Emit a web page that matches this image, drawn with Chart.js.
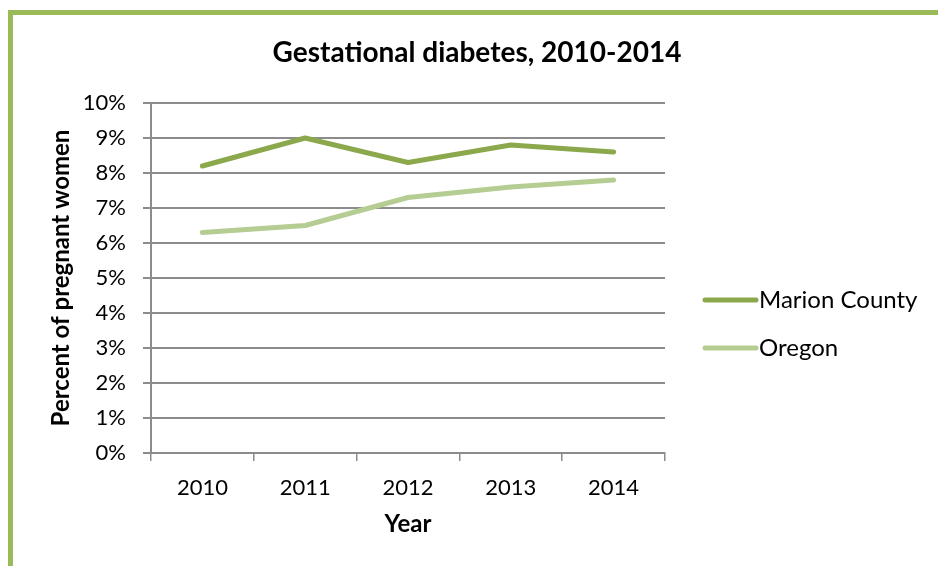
<!DOCTYPE html>
<html>
<head>
<meta charset="utf-8">
<script src="https://cdn.jsdelivr.net/npm/chart.js@4/dist/chart.umd.min.js"></script>
<style>
  html, body { margin: 0; padding: 0; background: #fff; }
  #wrap { position: relative; width: 938px; height: 566px; overflow: hidden; }
  #frame { position: absolute; left: 8px; top: 10px; right: -10px; bottom: -10px;
           border-left: 5px solid #9BBB59; border-top: 5px solid #9BBB59; }
  canvas { position: absolute; left: 0; top: 0; }
</style>
</head>
<body>
<div id="wrap">
  <div id="frame"></div>
  <canvas id="c" width="938" height="566"></canvas>
</div>
<script>
const chartTitle = "Gestational diabetes, 2010-2014";
const years = ["2010", "2011", "2012", "2013", "2014"];
const seriesNames = ["Marion County", "Oregon"];
const marionCounty = [8.2, 9.0, 8.3, 8.8, 8.6];
const oregon = [6.3, 6.5, 7.3, 7.6, 7.8];
const yTickValues = [0, 1, 2, 3, 4, 5, 6, 7, 8, 9, 10];
const xAxisTitle = "Year";
const yAxisTitle = "Percent of pregnant women";

const FONT = "Lato, 'Open Sans', sans-serif";
const GRID = "#8c8c8c";

const titlePlugin = {
  id: 'customTitle',
  afterDraw(chart) {
    const ctx = chart.ctx;
    ctx.save();
    ctx.font = "bold 28px " + FONT;
    ctx.fillStyle = "#000";
    ctx.textAlign = "center";
    ctx.textBaseline = "middle";
    ctx.fillText(chartTitle, 477, 53);
    ctx.restore();
  }
};

const legendPlugin = {
  id: 'customLegend',
  afterDraw(chart) {
    const ctx = chart.ctx;
    ctx.save();
    ctx.font = "24px " + FONT;
    ctx.textBaseline = "middle";
    ctx.textAlign = "left";
    chart.data.datasets.forEach((ds, i) => {
      const y = 300 + i * 48;
      ctx.strokeStyle = ds.borderColor;
      ctx.lineWidth = ds.borderWidth;
      ctx.lineCap = "round";
      ctx.beginPath();
      ctx.moveTo(705, y);
      ctx.lineTo(756, y);
      ctx.stroke();
      ctx.fillStyle = "#000";
      ctx.fillText(ds.label, 759, y);
    });
    ctx.restore();
  }
};

new Chart(document.getElementById('c'), {
  type: 'line',
  data: {
    labels: years,
    datasets: [
      { label: seriesNames[0], data: marionCounty, borderColor: "#8CA84C", backgroundColor: "#8CA84C",
        borderWidth: 5, pointRadius: 0, tension: 0, borderCapStyle: 'round', borderJoinStyle: 'round' },
      { label: seriesNames[1], data: oregon, borderColor: "#B5CD92", backgroundColor: "#B5CD92",
        borderWidth: 5, pointRadius: 0, tension: 0, borderCapStyle: 'round', borderJoinStyle: 'round' }
    ]
  },
  options: {
    responsive: false,
    animation: false,
    events: [],
    layout: { padding: { left: 0, right: 273, top: 103, bottom: 0 } },
    plugins: {
      legend: { display: false },
      title: { display: false },
      tooltip: { enabled: false }
    },
    scales: {
      x: {
        offset: true,
        grid: { offset: true, drawOnChartArea: false, drawTicks: true, tickLength: 8, color: GRID, lineWidth: 1.5 },
        border: { display: true, color: GRID, width: 2 },
        ticks: { color: "#000", font: { family: FONT, size: 22 }, padding: 14, maxRotation: 0 },
        title: { display: true, text: xAxisTitle, color: "#000", font: { family: FONT, size: 24, weight: 'bold' }, padding: { top: 0, bottom: 27 } },
        afterFit(scale) { scale.height = 113; }
      },
      y: {
        min: 0, max: 10,
        afterBuildTicks(scale) { scale.ticks = yTickValues.map(v => ({ value: v })); },
        grid: { color: GRID, lineWidth: 2, tickLength: 8, drawTicks: true },
        border: { display: true, color: GRID, width: 2 },
        ticks: { color: "#000", font: { family: FONT, size: 22 }, padding: 17, callback: v => v + "%" },
        title: { display: true, text: yAxisTitle, color: "#000", font: { family: FONT, size: 24, weight: 'bold' }, padding: { top: 47, bottom: 0 } },
        afterFit(scale) { scale.width = 151; }
      }
    }
  },
  plugins: [titlePlugin, legendPlugin]
});
</script>
</body>
</html>
